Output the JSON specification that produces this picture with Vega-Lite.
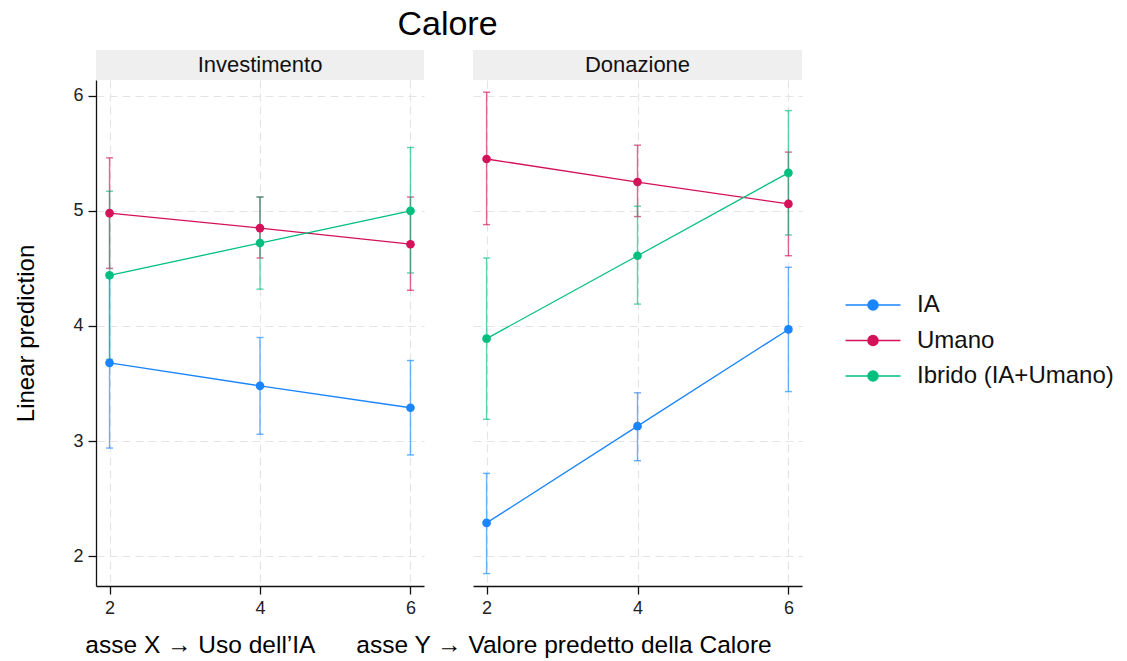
{
  "$schema": "https://vega.github.io/schema/vega-lite/v6.json",
  "background": "white",
  "padding": {"left": 14, "top": 8, "right": 5, "bottom": 5},
  "config": {
    "font": "Liberation Sans",
    "view": {"stroke": null},
    "axis": {
      "labelFont": "Liberation Sans",
      "titleFont": "Liberation Sans",
      "labelColor": "#222222",
      "titleColor": "#000000",
      "labelFontSize": 18,
      "titleFontSize": 24,
      "titleFontWeight": "normal",
      "domainColor": "#111111",
      "domainWidth": 1.3,
      "tickColor": "#111111",
      "tickWidth": 1.3,
      "tickSize": 8,
      "labelPadding": 5,
      "gridColor": "#e4e4e4",
      "gridDash": [8, 5],
      "gridWidth": 1.2
    },
    "title": {"font": "Liberation Sans", "fontWeight": "normal", "color": "#000000"}
  },
  "datasets": {
    "margins": [
      {"panel": "Investimento", "x": 2, "group": "IA", "mean": 3.68, "lo": 2.94, "hi": 4.42},
      {"panel": "Investimento", "x": 4, "group": "IA", "mean": 3.48, "lo": 3.06, "hi": 3.90},
      {"panel": "Investimento", "x": 6, "group": "IA", "mean": 3.29, "lo": 2.88, "hi": 3.70},
      {"panel": "Investimento", "x": 2, "group": "Umano", "mean": 4.98, "lo": 4.50, "hi": 5.46},
      {"panel": "Investimento", "x": 4, "group": "Umano", "mean": 4.85, "lo": 4.59, "hi": 5.12},
      {"panel": "Investimento", "x": 6, "group": "Umano", "mean": 4.71, "lo": 4.31, "hi": 5.12},
      {"panel": "Investimento", "x": 2, "group": "Ibrido (IA+Umano)", "mean": 4.44, "lo": 3.71, "hi": 5.17},
      {"panel": "Investimento", "x": 4, "group": "Ibrido (IA+Umano)", "mean": 4.72, "lo": 4.32, "hi": 5.12},
      {"panel": "Investimento", "x": 6, "group": "Ibrido (IA+Umano)", "mean": 5.00, "lo": 4.46, "hi": 5.55},
      {"panel": "Donazione", "x": 2, "group": "IA", "mean": 2.29, "lo": 1.85, "hi": 2.72},
      {"panel": "Donazione", "x": 4, "group": "IA", "mean": 3.13, "lo": 2.83, "hi": 3.42},
      {"panel": "Donazione", "x": 6, "group": "IA", "mean": 3.97, "lo": 3.43, "hi": 4.51},
      {"panel": "Donazione", "x": 2, "group": "Umano", "mean": 5.45, "lo": 4.88, "hi": 6.03},
      {"panel": "Donazione", "x": 4, "group": "Umano", "mean": 5.25, "lo": 4.95, "hi": 5.57},
      {"panel": "Donazione", "x": 6, "group": "Umano", "mean": 5.06, "lo": 4.61, "hi": 5.51},
      {"panel": "Donazione", "x": 2, "group": "Ibrido (IA+Umano)", "mean": 3.89, "lo": 3.19, "hi": 4.59},
      {"panel": "Donazione", "x": 4, "group": "Ibrido (IA+Umano)", "mean": 4.61, "lo": 4.19, "hi": 5.04},
      {"panel": "Donazione", "x": 6, "group": "Ibrido (IA+Umano)", "mean": 5.33, "lo": 4.79, "hi": 5.87}
    ],
    "strip1": [{"label": "Investimento"}],
    "strip2": [{"label": "Donazione"}]
  },
  "title": {"text": "Calore", "fontSize": 34, "anchor": "middle", "offset": 8, "dx": -117},
  "vconcat": [
    {
      "title": {
        "text": "asse X → Uso dell’IA\u00a0\u00a0\u00a0\u00a0\u00a0 asse Y → Valore predetto della Calore",
        "orient": "bottom",
        "fontSize": 24.5,
        "anchor": "middle",
        "offset": 17,
        "dx": 20
      },
      "spacing": 49,
      "hconcat": [
        {
          "bounds": "flush",
          "spacing": 0,
          "vconcat": [
            {
              "data": {"name": "strip1"},
              "width": 328,
              "height": 30,
              "layer": [
                {"mark": {"type": "rect", "color": "#efefef"},
                 "encoding": {"x": {"field": "label", "type": "nominal", "axis": null, "scale": {"paddingInner": 0, "paddingOuter": 0}}}},
                {"mark": {"type": "text", "fontSize": 22, "color": "#111111"},
                 "encoding": {"x": {"field": "label", "type": "nominal", "axis": null}, "text": {"field": "label"}}}
              ]
            },
            {
              "data": {"name": "margins"},
              "transform": [{"filter": "datum.panel === 'Investimento'"}],
              "width": 328,
              "height": 506,
              "encoding": {
                "x": {"field": "x", "type": "quantitative",
                      "scale": {"domain": [1.82, 6.18], "nice": false, "zero": false},
                      "axis": {"values": [2, 4, 6], "title": null, "grid": true}},
                "color": {"field": "group", "type": "nominal",
                          "scale": {"domain": ["IA", "Umano", "Ibrido (IA+Umano)"], "range": ["#1a85ff", "#d41159", "#00bf7f"]},
                          "legend": {
                            "orient": "none", "legendX": 762, "legendY": 240, "title": null,
                            "symbolType": "M-2,0L2,0M-0.364,0A0.364,0.364,0,1,1,0.364,0A0.364,0.364,0,1,1,-0.364,0Z",
                            "symbolSize": 756, "symbolStrokeWidth": 1.6,
                            "labelFontSize": 24, "labelColor": "#111111", "labelOffset": 29, "labelLimit": 0, "rowPadding": 8.5,
                            "encode": {"symbols": {"update": {
                              "fill": {"scale": "color", "field": "value"},
                              "stroke": {"scale": "color", "field": "value"},
                              "fillOpacity": {"value": 1}, "strokeOpacity": {"value": 1}, "opacity": {"value": 1}}}}
                          }}
              },
              "layer": [
                {"mark": {"type": "errorbar", "size": 7, "thickness": 1.4, "rule": {"opacity": 0.65}, "ticks": {"opacity": 0.65}},
                 "encoding": {
                   "y": {"field": "lo", "type": "quantitative", "scale": {"domain": [1.742, 6.136], "nice": false, "zero": false},
                         "axis": {"values": [2, 3, 4, 5, 6], "title": "Linear prediction", "grid": true, "titlePadding": 34}},
                   "y2": {"field": "hi"}}},
                {"mark": {"type": "line", "strokeWidth": 1.3},
                 "encoding": {"y": {"field": "mean", "type": "quantitative", "scale": {"domain": [1.742, 6.136], "nice": false, "zero": false},
                   "axis": {"values": [2, 3, 4, 5, 6], "title": "Linear prediction", "grid": true, "titlePadding": 34}}}},
                {"mark": {"type": "point", "filled": true, "size": 75, "opacity": 1},
                 "encoding": {"y": {"field": "mean", "type": "quantitative", "scale": {"domain": [1.742, 6.136], "nice": false, "zero": false},
                   "axis": {"values": [2, 3, 4, 5, 6], "title": "Linear prediction", "grid": true, "titlePadding": 34}}}}
              ]
            }
          ]
        },
        {
          "bounds": "flush",
          "spacing": 0,
          "vconcat": [
            {
              "data": {"name": "strip2"},
              "width": 329,
              "height": 30,
              "layer": [
                {"mark": {"type": "rect", "color": "#efefef"},
                 "encoding": {"x": {"field": "label", "type": "nominal", "axis": null, "scale": {"paddingInner": 0, "paddingOuter": 0}}}},
                {"mark": {"type": "text", "fontSize": 22, "color": "#111111"},
                 "encoding": {"x": {"field": "label", "type": "nominal", "axis": null}, "text": {"field": "label"}}}
              ]
            },
            {
              "data": {"name": "margins"},
              "transform": [{"filter": "datum.panel === 'Donazione'"}],
              "width": 329,
              "height": 506,
              "encoding": {
                "x": {"field": "x", "type": "quantitative",
                      "scale": {"domain": [1.82, 6.18], "nice": false, "zero": false},
                      "axis": {"values": [2, 4, 6], "title": null, "grid": true}},
                "color": {"field": "group", "type": "nominal",
                          "scale": {"domain": ["IA", "Umano", "Ibrido (IA+Umano)"], "range": ["#1a85ff", "#d41159", "#00bf7f"]}}
              },
              "layer": [
                {"mark": {"type": "errorbar", "size": 7, "thickness": 1.4, "rule": {"opacity": 0.65}, "ticks": {"opacity": 0.65}},
                 "encoding": {
                   "y": {"field": "lo", "type": "quantitative", "scale": {"domain": [1.742, 6.136], "nice": false, "zero": false},
                         "axis": {"values": [2, 3, 4, 5, 6], "title": null, "grid": true, "labels": false, "ticks": false, "domain": false}},
                   "y2": {"field": "hi"}}},
                {"mark": {"type": "line", "strokeWidth": 1.3},
                 "encoding": {"y": {"field": "mean", "type": "quantitative", "scale": {"domain": [1.742, 6.136], "nice": false, "zero": false},
                   "axis": {"values": [2, 3, 4, 5, 6], "title": null, "grid": true, "labels": false, "ticks": false, "domain": false}}}},
                {"mark": {"type": "point", "filled": true, "size": 75, "opacity": 1},
                 "encoding": {"y": {"field": "mean", "type": "quantitative", "scale": {"domain": [1.742, 6.136], "nice": false, "zero": false},
                   "axis": {"values": [2, 3, 4, 5, 6], "title": null, "grid": true, "labels": false, "ticks": false, "domain": false}}}}
              ]
            }
          ]
        }
      ]
    }
  ]
}
